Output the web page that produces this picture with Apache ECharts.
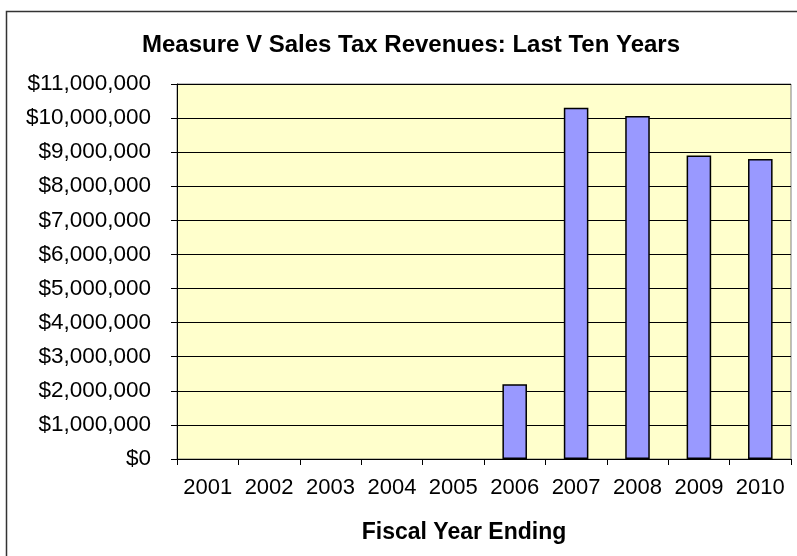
<!DOCTYPE html>
<html>
<head>
<meta charset="utf-8">
<script src="https://cdn.jsdelivr.net/npm/echarts@6/dist/echarts.min.js"></script>
<style>
  html, body { margin: 0; padding: 0; background: #fff; }
  #chart { width: 797px; height: 556px; }
</style>
</head>
<body>
<div id="chart"></div>
<script>
// Fiscal years and Measure V sales tax revenues (dollars)
var years = ['2001', '2002', '2003', '2004', '2005', '2006', '2007', '2008', '2009', '2010'];
var revenues = [0, 0, 0, 0, 0, 2190000, 10300000, 10060000, 8900000, 8800000];
var yMin = 0;
var yMax = 11000000;
var yStep = 1000000;

function dollars(v) {
  return '$' + String(Math.round(v)).replace(/\B(?=(\d{3})+(?!\d))/g, ',');
}

// zero-revenue years get no outline so no sliver is drawn on the axis
var barData = revenues.map(function (v) {
  return v === 0 ? { value: v, itemStyle: { borderWidth: 0 } } : v;
});

var chart = echarts.init(document.getElementById('chart'), null, { renderer: 'canvas' });
var font = 'Arial, "Liberation Sans", sans-serif';

chart.setOption({
  animation: false,
  backgroundColor: '#ffffff',
  title: [
    {
      text: 'Measure V Sales Tax Revenues: Last Ten Years',
      left: 406, top: 28, textAlign: 'center',
      textStyle: { fontFamily: font, fontSize: 24, fontWeight: 'bold', color: '#000' }
    },
    {
      text: 'Fiscal Year Ending',
      left: 459, top: 516, textAlign: 'center',
      textStyle: { fontFamily: font, fontSize: 23, fontWeight: 'bold', color: '#000' }
    }
  ],
  graphic: [
    {
      type: 'rect',
      shape: { x: 6.5, y: 11.5, width: 820, height: 600 },
      style: { fill: 'none', stroke: '#333333', lineWidth: 1.5 },
      silent: true
    }
  ],
  grid: {
    left: 177, right: 6, top: 84, bottom: 97,
    show: true, backgroundColor: '#FFFFCC', borderColor: '#808080', borderWidth: 1
  },
  xAxis: {
    type: 'category',
    data: years,
    boundaryGap: true,
    axisLine: { lineStyle: { color: '#000', width: 1 } },
    axisTick: { show: true, length: 6, inside: false, interval: 0, lineStyle: { color: '#000' } },
    axisLabel: { fontFamily: font, fontSize: 22, color: '#000', margin: 18, interval: 0, hideOverlap: false },
    splitLine: { show: false }
  },
  yAxis: {
    type: 'value',
    min: yMin, max: yMax, interval: yStep,
    axisLine: { show: true, lineStyle: { color: '#000', width: 1 } },
    axisTick: { show: true, length: 6, lineStyle: { color: '#000' } },
    axisLabel: { fontFamily: font, fontSize: 22.5, color: '#000', margin: 26, formatter: dollars },
    splitLine: { show: true, lineStyle: { color: '#000', width: 1 } }
  },
  series: [
    {
      type: 'bar',
      data: barData,
      barWidth: '40%',
      itemStyle: { color: '#9999FF', borderColor: '#000', borderWidth: 1.5 }
    }
  ]
});
</script>
</body>
</html>
